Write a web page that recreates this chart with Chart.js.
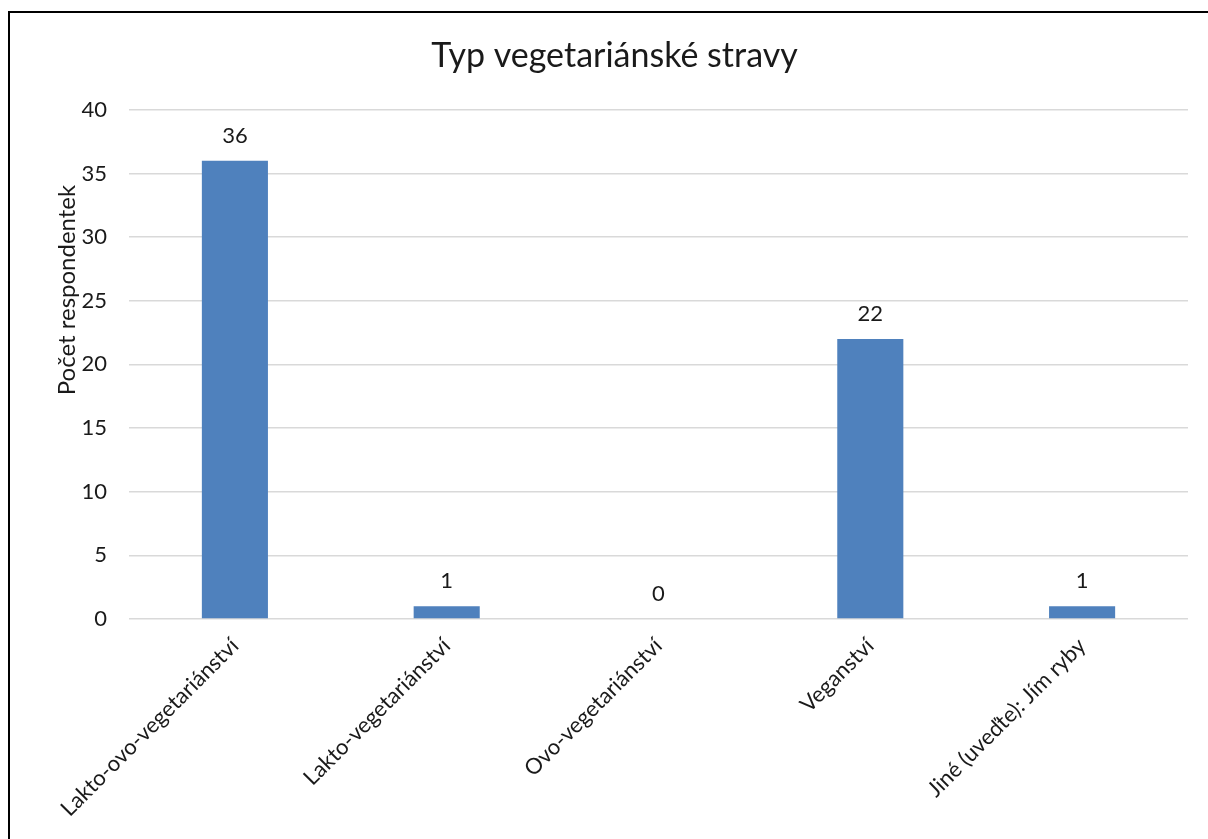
<!DOCTYPE html>
<html lang="cs">
<head>
<meta charset="utf-8">
<title>Typ vegetariánské stravy</title>
<script src="https://cdn.jsdelivr.net/npm/chart.js@4.4.1/dist/chart.umd.min.js"></script>
<style>
  html, body { margin: 0; padding: 0; background: #ffffff; }
  #wrap { width: 1208px; height: 839px; }
</style>
</head>
<body>
<div id="wrap"><canvas id="chart" width="1208" height="839"></canvas></div>
<script>
// Survey answers: type of vegetarian diet
const categories = [
  'Lakto-ovo-vegetariánství',
  'Lakto-vegetariánství',
  'Ovo-vegetariánství',
  'Veganství',
  'Jiné (uveďte): Jím ryby'
];
const counts = [36, 1, 0, 22, 1];
const yTicks = [0, 5, 10, 15, 20, 25, 30, 35, 40];

const chartTitle = 'Typ vegetariánské stravy';
const yAxisTitle = 'Počet respondentek';

const FONT = 'Lato, "Open Sans", sans-serif';
const TEXT = '#1a1a1a';

// Outer frame of the chart object
const framePlugin = {
  id: 'frame',
  afterDraw(chart) {
    const ctx = chart.ctx;
    ctx.save();
    ctx.strokeStyle = '#000000';
    ctx.lineWidth = 2;
    ctx.strokeRect(9, 12, 2400, 2400);
    ctx.restore();
  }
};

// Value above every bar
const valueLabels = {
  id: 'valueLabels',
  afterDatasetsDraw(chart) {
    const ctx = chart.ctx;
    const meta = chart.getDatasetMeta(0);
    ctx.save();
    ctx.font = '22px ' + FONT;
    ctx.fillStyle = TEXT;
    ctx.textAlign = 'center';
    ctx.textBaseline = 'middle';
    meta.data.forEach((bar, i) => {
      ctx.fillText(String(counts[i]), bar.x, bar.y - 25);
    });
    ctx.restore();
  }
};

// Vertical axis title
const yTitlePlugin = {
  id: 'yTitle',
  afterDraw(chart) {
    const ctx = chart.ctx;
    ctx.save();
    ctx.translate(67, 290);
    ctx.rotate(-Math.PI / 2);
    ctx.font = '24px ' + FONT;
    ctx.fillStyle = TEXT;
    ctx.textAlign = 'center';
    ctx.textBaseline = 'middle';
    ctx.fillText(yAxisTitle, 0, 0);
    ctx.restore();
  }
};

new Chart(document.getElementById('chart'), {
  type: 'bar',
  data: {
    labels: categories,
    datasets: [{
      data: counts,
      backgroundColor: '#4f81bd',
      borderWidth: 0,
      categoryPercentage: 1,
      barPercentage: 0.312
    }]
  },
  options: {
    responsive: false,
    animation: false,
    layout: { padding: { left: 41, right: 20, top: 0, bottom: 0 } },
    plugins: {
      legend: { display: false },
      tooltip: { enabled: false },
      title: {
        display: true,
        text: chartTitle,
        color: TEXT,
        font: { family: FONT, size: 34, weight: 'normal' },
        padding: { top: 36, bottom: 33 }
      }
    },
    scales: {
      x: {
        grid: { display: false, drawTicks: false },
        border: { display: false },
        ticks: {
          color: TEXT,
          font: { family: FONT, size: 22 },
          minRotation: 45,
          maxRotation: 45,
          padding: 14,
          autoSkip: false
        },
        afterFit(scale) { scale.height = 220; }
      },
      y: {
        min: 0,
        max: 40,
        afterBuildTicks(scale) { scale.ticks = yTicks.map(v => ({ value: v })); },
        grid: { color: '#d9d9d9', lineWidth: 1.6, drawTicks: false },
        border: { display: false },
        ticks: {
          color: TEXT,
          font: { family: FONT, size: 22 },
          padding: 22
        },
        afterFit(scale) { scale.width = 88; }
      }
    }
  },
  plugins: [framePlugin, valueLabels, yTitlePlugin]
});
</script>
</body>
</html>
